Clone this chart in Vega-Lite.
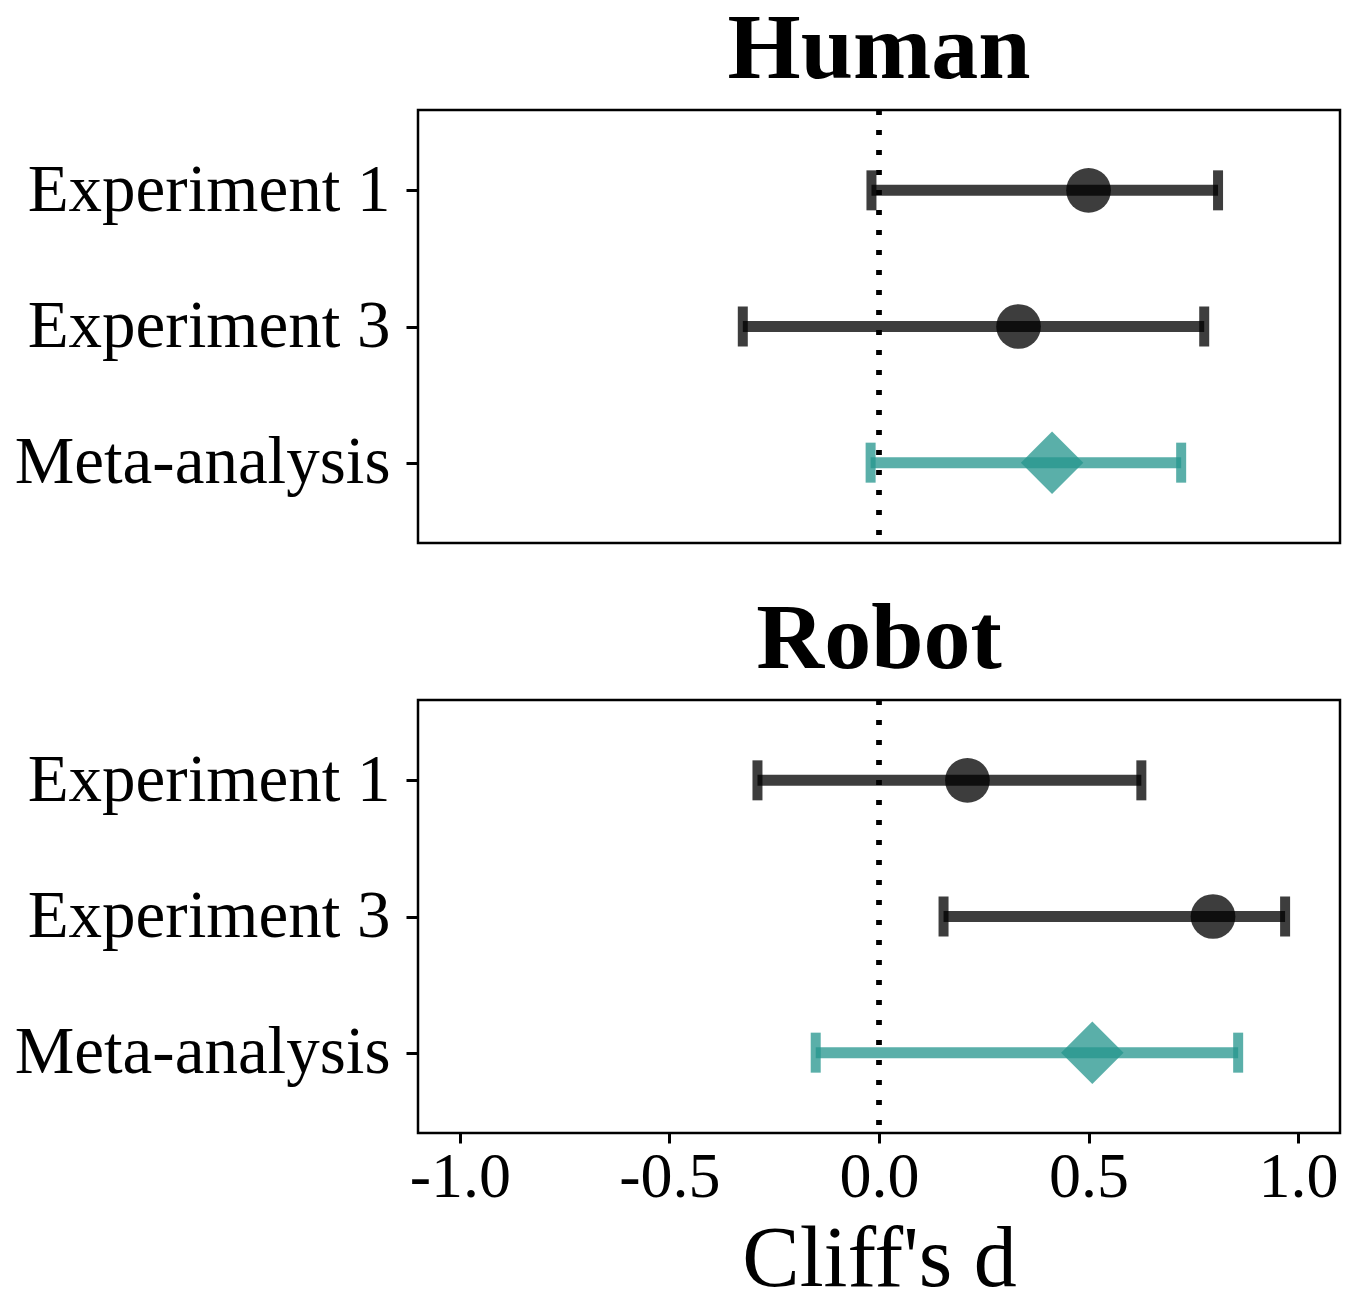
{
  "$schema": "https://vega.github.io/schema/vega-lite/v6.json",
  "padding": {"left": 12, "top": 1, "right": 10, "bottom": 0},
  "background": "white",
  "datasets": {
    "forest": [
      {"panel": "Human", "study": "Experiment 1", "est": 0.50, "lo": -0.018, "hi": 0.809, "type": "study"},
      {"panel": "Human", "study": "Experiment 3", "est": 0.333, "lo": -0.325, "hi": 0.776, "type": "study"},
      {"panel": "Human", "study": "Meta-analysis", "est": 0.413, "lo": -0.02, "hi": 0.721, "type": "meta"},
      {"panel": "Robot", "study": "Experiment 1", "est": 0.211, "lo": -0.29, "hi": 0.626, "type": "study"},
      {"panel": "Robot", "study": "Experiment 3", "est": 0.797, "lo": 0.154, "hi": 0.969, "type": "study"},
      {"panel": "Robot", "study": "Meta-analysis", "est": 0.509, "lo": -0.151, "hi": 0.857, "type": "meta"}
    ]
  },
  "config": {
    "font": "Liberation Serif",
    "view": {"stroke": "black", "strokeWidth": 2.5},
    "axis": {"domain": false, "grid": false, "tickColor": "black", "tickWidth": 3, "labelColor": "black", "titleColor": "black", "labelLimit": 0},
    "title": {"font": "Liberation Serif", "fontSize": 94, "fontWeight": "bold", "color": "black", "offset": 10, "anchor": "middle"}
  },
  "spacing": 44,
  "vconcat": [
    {
      "title": "Human",
      "width": 922,
      "height": 433,
      "data": {"name": "forest"},
      "transform": [{"filter": "datum.panel === 'Human'"}],
      "encoding": {
        "y": {"field": "study", "type": "nominal", "sort": ["Experiment 1", "Experiment 3", "Meta-analysis"], "scale": {"type": "point", "padding": 0.59},
              "axis": {"title": null, "labelFontSize": 67, "tickSize": 12, "labelPadding": 16}},
        "color": {"field": "type", "type": "nominal", "scale": {"domain": ["study", "meta"], "range": ["#000000", "#26968E"]}, "legend": null}
      },
      "layer": [
        {"mark": {"type": "rule", "strokeDash": [5, 15], "strokeWidth": 5, "color": "black"},
         "encoding": {"x": {"datum": 0, "type": "quantitative", "scale": {"domain": [-1.1, 1.1], "nice": false, "zero": false}, "axis": null}, "y": null, "color": null}},
        {"mark": {"type": "rule", "strokeWidth": 11, "opacity": 0.76},
         "encoding": {"x": {"field": "lo", "type": "quantitative", "scale": {"domain": [-1.1, 1.1], "nice": false, "zero": false}, "axis": null}, "x2": {"field": "hi"}}},
        {"mark": {"type": "tick", "size": 40, "thickness": 10, "opacity": 0.76},
         "encoding": {"x": {"field": "lo", "type": "quantitative"}}},
        {"mark": {"type": "tick", "size": 40, "thickness": 10, "opacity": 0.76},
         "encoding": {"x": {"field": "hi", "type": "quantitative"}}},
        {"mark": {"type": "point", "filled": true, "opacity": 0.76},
         "encoding": {
           "x": {"field": "est", "type": "quantitative"},
           "shape": {"field": "type", "type": "nominal", "scale": {"domain": ["study", "meta"], "range": ["circle", "diamond"]}, "legend": null},
           "size": {"field": "type", "type": "nominal", "scale": {"domain": ["study", "meta"], "range": [2000, 3900]}, "legend": null}
         }}
      ]
    },
    {
      "title": "Robot",
      "width": 922,
      "height": 433,
      "data": {"name": "forest"},
      "transform": [{"filter": "datum.panel === 'Robot'"}],
      "encoding": {
        "y": {"field": "study", "type": "nominal", "sort": ["Experiment 1", "Experiment 3", "Meta-analysis"], "scale": {"type": "point", "padding": 0.59},
              "axis": {"title": null, "labelFontSize": 67, "tickSize": 12, "labelPadding": 16}},
        "color": {"field": "type", "type": "nominal", "scale": {"domain": ["study", "meta"], "range": ["#000000", "#26968E"]}, "legend": null}
      },
      "layer": [
        {"mark": {"type": "rule", "strokeDash": [5, 15], "strokeWidth": 5, "color": "black"},
         "encoding": {"x": {"datum": 0, "type": "quantitative", "scale": {"domain": [-1.1, 1.1], "nice": false, "zero": false},
           "axis": {"values": [-1, -0.5, 0, 0.5, 1], "labelExpr": "datum.value < 0 ? '-' + format(-datum.value, '.1f') : format(datum.value, '.1f')", "labelFontSize": 64, "tickSize": 10, "labelPadding": 2, "title": "Cliff's d", "titleFontSize": 86, "titleFontWeight": "normal", "titlePadding": 8, "labelFlush": false}}, "y": null, "color": null}},
        {"mark": {"type": "rule", "strokeWidth": 11, "opacity": 0.76},
         "encoding": {"x": {"field": "lo", "type": "quantitative"}, "x2": {"field": "hi"}}},
        {"mark": {"type": "tick", "size": 40, "thickness": 10, "opacity": 0.76},
         "encoding": {"x": {"field": "lo", "type": "quantitative"}}},
        {"mark": {"type": "tick", "size": 40, "thickness": 10, "opacity": 0.76},
         "encoding": {"x": {"field": "hi", "type": "quantitative"}}},
        {"mark": {"type": "point", "filled": true, "opacity": 0.76},
         "encoding": {
           "x": {"field": "est", "type": "quantitative"},
           "shape": {"field": "type", "type": "nominal", "scale": {"domain": ["study", "meta"], "range": ["circle", "diamond"]}, "legend": null},
           "size": {"field": "type", "type": "nominal", "scale": {"domain": ["study", "meta"], "range": [2000, 3900]}, "legend": null}
         }}
      ]
    }
  ]
}
